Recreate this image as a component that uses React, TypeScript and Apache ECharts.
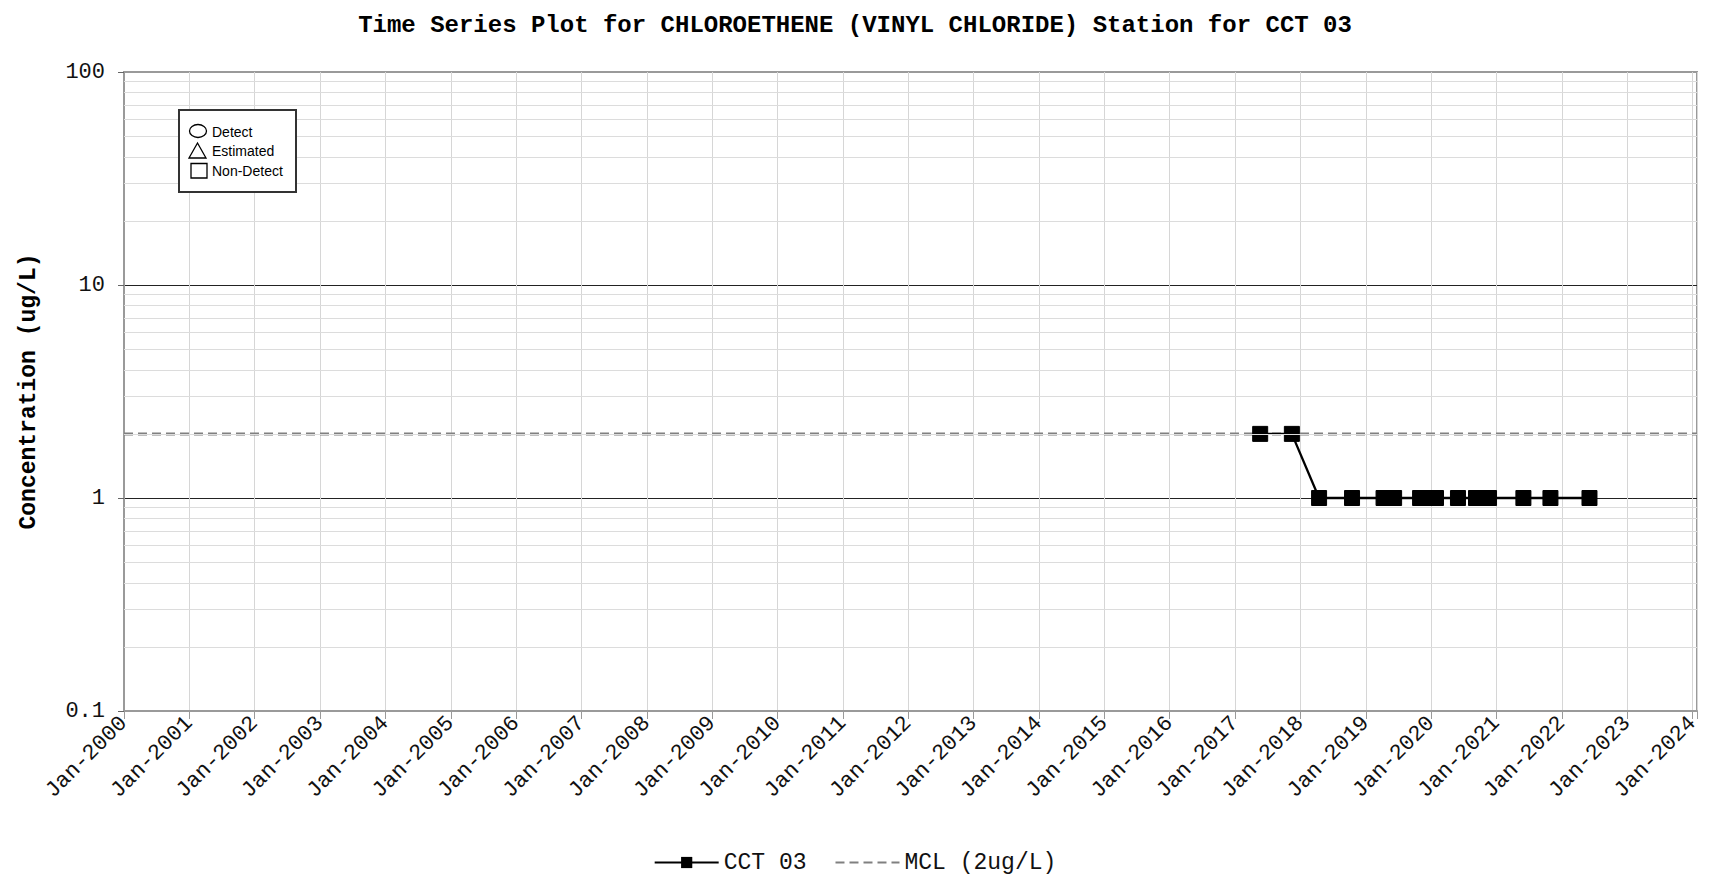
import React, { useEffect, useRef } from "react";
import * as echarts from "echarts";

const TITLE = "Time Series Plot for CHLOROETHENE (VINYL CHLORIDE) Station for CCT 03";
const Y_NAME = "Concentration (ug/L)";
const SERIES_NAME = "CCT 03";
const MCL_NAME = "MCL (2ug/L)";

const SAMPLE_DATES = [
  "2017-05-21", "2017-11-14", "2018-04-15", "2018-10-16", "2019-04-10",
  "2019-06-08", "2019-10-31", "2019-12-15", "2020-01-28", "2020-05-30",
  "2020-09-08", "2020-11-20", "2021-05-31", "2021-10-29", "2022-06-04",
];
const CCT03_VALUES = [2, 2, 1, 1, 1, 1, 1, 1, 1, 1, 1, 1, 1, 1, 1];
const MCL_VALUE = 2;

const X_MIN = 2000;
const X_MAX = 2024.067;
const Y_MIN = 0.1;
const Y_MAX = 100;
const MINOR_GRID_VALUES = [
  0.2, 0.3, 0.4, 0.5, 0.6, 0.7, 0.8, 0.9,
  2, 3, 4, 5, 6, 7, 8, 9,
  20, 30, 40, 50, 60, 70, 80, 90,
];
const INNER_LEGEND_LABELS = ["Detect", "Estimated", "Non-Detect"];

const MONO = "'Liberation Mono', 'DejaVu Sans Mono', monospace";

function toDecimalYear(s: string): number {
  const [y, m, d] = s.split("-").map(Number);
  const start = Date.UTC(y, 0, 1);
  const end = Date.UTC(y + 1, 0, 1);
  const t = Date.UTC(y, m - 1, d);
  return y + (t - start) / (end - start);
}

export default function App() {
  const ref = useRef<HTMLDivElement>(null);

  useEffect(() => {
    if (!ref.current) return;
    const chart = echarts.init(ref.current, null, { renderer: "svg" });

    const seriesData = SAMPLE_DATES.map((d, i) => [toDecimalYear(d), CCT03_VALUES[i]]);

    const option: any = {
      animation: false,
      backgroundColor: "#ffffff",
      title: {
        text: TITLE,
        left: "center",
        top: 8,
        textStyle: { fontFamily: MONO, fontSize: 24, fontWeight: "bold", color: "#000" },
      },
      grid: {
        left: 124,
        right: 13,
        top: 72,
        bottom: 173,
        show: true,
        borderColor: "#9a9a9a",
        borderWidth: 2,
        backgroundColor: "transparent",
      },
      legend: {
        data: [
          { name: SERIES_NAME },
          { name: MCL_NAME, itemStyle: { opacity: 0 } },
        ],
        left: "center",
        top: 846,
        itemWidth: 64,
        itemHeight: 14,
        itemGap: 28,
        textStyle: { fontFamily: MONO, fontSize: 23, color: "#111" },
      },
      xAxis: {
        type: "value",
        min: X_MIN,
        max: X_MAX,
        interval: 1,
        axisLine: { show: true, lineStyle: { color: "#9a9a9a", width: 2 } },
        axisTick: { show: true, length: 8, lineStyle: { color: "#9a9a9a" } },
        axisLabel: {
          rotate: 45,
          margin: 9,
          fontFamily: MONO,
          fontSize: 22,
          color: "#111",
          showMaxLabel: true,
          formatter: (v: number) => (Number.isInteger(v) ? "Jan-" + v : ""),
        },
        splitLine: { show: true, lineStyle: { color: "#d6d6d6", width: 1 } },
      },
      yAxis: {
        type: "log",
        logBase: 10,
        min: Y_MIN,
        max: Y_MAX,
        name: Y_NAME,
        nameLocation: "middle",
        nameGap: 84,
        nameTextStyle: { fontFamily: MONO, fontSize: 23, fontWeight: "bold", color: "#000" },
        axisLine: { show: true, lineStyle: { color: "#9a9a9a", width: 2 } },
        axisTick: { show: true, length: 6, lineStyle: { color: "#666" } },
        axisLabel: {
          margin: 19,
          fontFamily: MONO,
          fontSize: 22,
          color: "#111",
          formatter: (v: number) => String(parseFloat(Number(v).toPrecision(3))),
        },
        splitLine: {
          show: true,
          lineStyle: { color: ["#9a9a9a", "#222222", "#222222", "#9a9a9a"], width: 1 },
        },
      },
      graphic: [
        {
          type: "rect",
          shape: { x: 179, y: 110, width: 117, height: 82 },
          style: { fill: "#ffffff", stroke: "#333", lineWidth: 2 },
          z: 100,
        },
        {
          type: "ellipse",
          shape: { cx: 198, cy: 131, rx: 8.5, ry: 6.5 },
          style: { fill: "#fff", stroke: "#000", lineWidth: 1.3 },
          z: 101,
        },
        {
          type: "polygon",
          shape: { points: [[189, 158], [206, 158], [197.5, 143]] },
          style: { fill: "#fff", stroke: "#000", lineWidth: 1.3 },
          z: 101,
        },
        {
          type: "rect",
          shape: { x: 191, y: 163.5, width: 16, height: 14.5 },
          style: { fill: "#fff", stroke: "#000", lineWidth: 1.3 },
          z: 101,
        },
        ...INNER_LEGEND_LABELS.map((t, i) => ({
          type: "text",
          x: 212,
          y: 131.5 + i * 19.5,
          style: {
            text: t,
            fontFamily: "'Liberation Sans Narrow', 'Liberation Sans', Arial, sans-serif",
            fontSize: 14,
            fill: "#000",
            verticalAlign: "middle",
            align: "left",
          },
          z: 101,
        })),
      ],
      series: [
        {
          name: "minor-grid",
          type: "line",
          data: [],
          z: 1,
          silent: true,
          markLine: {
            silent: true,
            symbol: "none",
            label: { show: false },
            lineStyle: { color: "#dcdcdc", type: "solid", width: 1.2 },
            data: MINOR_GRID_VALUES.map((v) => ({ yAxis: v })),
          },
        },
        {
          name: MCL_NAME,
          type: "line",
          data: [
            [X_MIN, MCL_VALUE],
            [X_MAX, MCL_VALUE],
          ],
          symbol: "none",
          showSymbol: false,
          z: 3,
          lineStyle: { color: "#808080", width: 3, type: [9, 5] },
          itemStyle: { color: "#808080" },
        },
        {
          name: SERIES_NAME,
          type: "line",
          data: seriesData,
          symbol: "rect",
          symbolSize: 15,
          z: 4,
          lineStyle: { color: "#000", width: 2.3 },
          itemStyle: { color: "#000", borderColor: "#000" },
        },
      ],
    };

    chart.setOption(option);
    return () => chart.dispose();
  }, []);

  return (
    <div
      ref={ref}
      style={{ position: "absolute", left: 0, top: 0, width: 1710, height: 884, background: "#fff" }}
    />
  );
}
